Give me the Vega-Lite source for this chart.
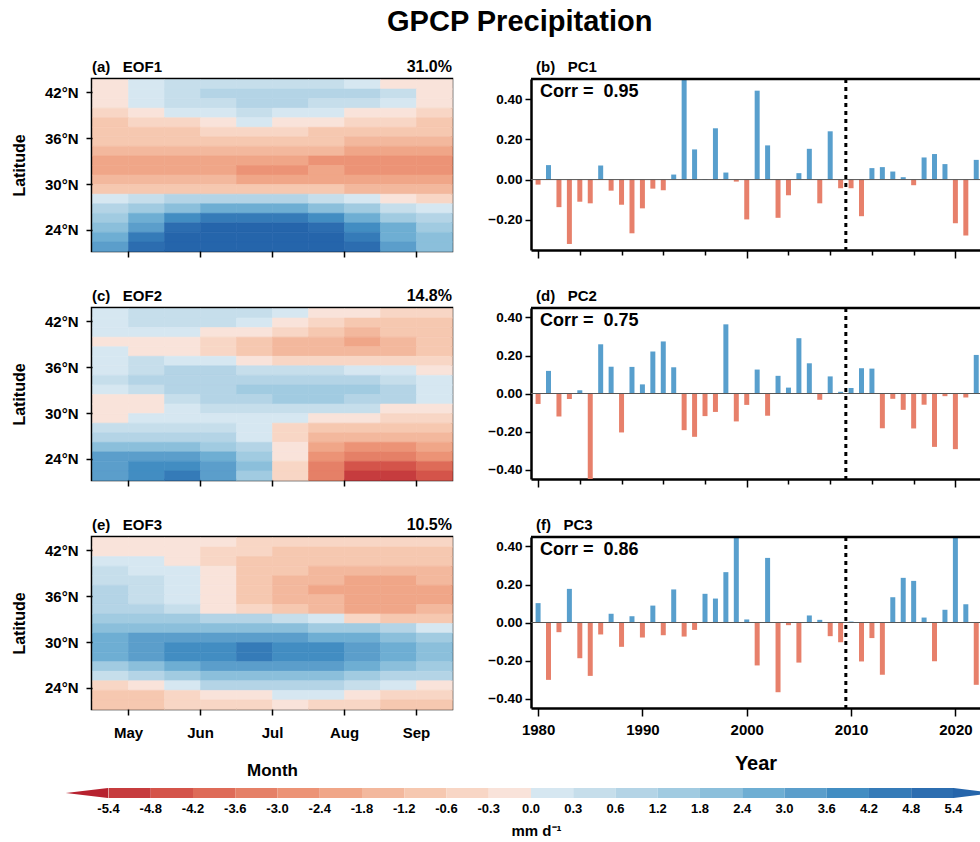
{
"$schema": "https://vega.github.io/schema/vega-lite/v6.json",
"background": "white",
"padding": {"left": 10, "top": 7, "right": 0, "bottom": 0},
"title": {"text": "GPCP Precipitation", "fontSize": 29, "font": "Liberation Sans", "fontWeight": "bold", "anchor": "middle", "offset": 21, "dx": 24, "color": "black"},
"spacing": 7,
"config": {
  "font": "Liberation Sans",
  "axis": {"labelFont": "Liberation Sans", "titleFont": "Liberation Sans", "labelColor": "black", "titleColor": "black", "tickColor": "black", "domainColor": "black", "labelFontWeight": "bold", "titleFontWeight": "bold", "grid": false, "labelOverlap": false},
  "title": {"font": "Liberation Sans", "color": "black"},
  "text": {"font": "Liberation Sans", "color": "black", "fontWeight": "bold"}
},
"vconcat": [
 {"columns": 2, "bounds": "flush", "spacing": {"row": 57, "column": 79}, "concat": [
   {"width": 360, "height": 172,
    "view": {"stroke": "black", "strokeWidth": 2.5},
    "layer": [
     {"data": {"name": "eof1"}, "mark": {"type": "rect", "binSpacing": 0, "strokeWidth": 0.6},
      "encoding": {
       "x": {"field": "m", "type": "quantitative", "bin": {"binned": true, "step": 0.5}, "scale": {"domain": [4.5, 9.5], "nice": false, "zero": false}, "axis": {"values": [5,6,7,8,9], "labels": false, "tickSize": 6, "tickWidth": 1.5, "domain": false, "title": null}},
       "y": {"field": "lat", "type": "quantitative", "bin": {"binned": true, "step": 1.25}, "scale": {"domain": [21.25, 43.75], "nice": false, "zero": false}, "axis": {"values": [24,30,36,42], "labelExpr": "datum.value + '°N'", "labelOverlap": false, "tickSize": 6, "tickWidth": 1.5, "domain": false, "labelFontSize": 15, "labelPadding": 8, "title": "Latitude", "titleFontSize": 16, "titlePadding": 17}},
       "color": {"field": "v", "type": "quantitative", "scale": {"type": "threshold", "domain": [-5.4,-4.8,-4.2,-3.6,-3.0,-2.4,-1.8,-1.2,-0.6,-0.3,0,0.3,0.6,1.2,1.8,2.4,3.0,3.6,4.2,4.8,5.4], "range": ["#b7222f","#c63c3e","#d4544a","#de6b58","#e58067","#ec9376","#f0a688","#f3b89d","#f6c8b0","#f8d6c5","#f9e3da","#d6e7f1","#c6deeb","#b4d4e6","#a1cbe1","#8bbfdb","#6eaed3","#5b9ecb","#428dc2","#357bb8","#2c6db0","#2565ab"]}, "legend": null},
       "stroke": {"field": "v", "type": "quantitative", "scale": {"type": "threshold", "domain": [-5.4,-4.8,-4.2,-3.6,-3.0,-2.4,-1.8,-1.2,-0.6,-0.3,0,0.3,0.6,1.2,1.8,2.4,3.0,3.6,4.2,4.8,5.4], "range": ["#b7222f","#c63c3e","#d4544a","#de6b58","#e58067","#ec9376","#f0a688","#f3b89d","#f6c8b0","#f8d6c5","#f9e3da","#d6e7f1","#c6deeb","#b4d4e6","#a1cbe1","#8bbfdb","#6eaed3","#5b9ecb","#428dc2","#357bb8","#2c6db0","#2565ab"]}, "legend": null}
      }},
     {"data": {"values": [{}]}, "mark": {"type": "text", "align": "right", "baseline": "alphabetic", "dy": -7, "fontSize": 16},
      "encoding": {"x": {"datum": 9.5}, "y": {"datum": 43.75}, "text": {"value": "31.0%"}}},
     {"data": {"values": [{}]}, "mark": {"type": "text", "align": "left", "baseline": "alphabetic", "dy": -7, "fontSize": 15},
      "encoding": {"x": {"datum": 4.5}, "y": {"datum": 43.75}, "text": {"value": "(a)\u00a0\u00a0\u00a0EOF1"}}}
    ]},
   {"width": 449, "height": 171,
    "view": {"stroke": null},
    "layer": [
     {"data": {"name": "pc1"}, "mark": {"type": "bar", "clip": true, "size": 5},
      "encoding": {
       "x": {"field": "year", "type": "quantitative", "scale": {"domain": [1979.8, 2021.88], "nice": false, "zero": false}, "axis": {"values": [1980,1982,1984,1986,1988,1990,1992,1994,1996,1998,2000,2002,2004,2006,2008,2010,2012,2014,2016,2018,2020], "labels": false, "tickSize": {"condition": {"test": "datum.value % 10 === 0", "value": 8}, "value": 5}, "tickWidth": 1.5, "domain": true, "domainWidth": 2.5, "title": null}},
       "y": {"field": "v", "type": "quantitative", "scale": {"domain": [-0.35, 0.5], "nice": false, "zero": false}, "axis": {"values": [-0.2,0,0.2,0.4], "format": ".2f", "labelOverlap": false, "tickSize": 6, "tickWidth": 1.5, "domain": true, "domainWidth": 2.5, "labelFontSize": 13.5, "labelPadding": 3, "title": null}},
       "color": {"condition": {"test": "datum.v >= 0", "value": "#589fcd"}, "value": "#e7806b"}
      }},
     {"data": {"values": [{}]}, "mark": {"type": "rule", "color": "#555555", "strokeWidth": 1}, "encoding": {"y": {"datum": 0}}},
     {"data": {"values": [{}]}, "mark": {"type": "rule", "color": "black", "strokeWidth": 3, "strokeDash": [4, 4]}, "encoding": {"x": {"datum": 2009.5}}},
     {"data": {"values": [{}]}, "mark": {"type": "rule", "color": "black", "strokeWidth": 2.5}, "encoding": {"y": {"datum": 0.5}}},
     {"data": {"values": [{}]}, "mark": {"type": "text", "align": "left", "baseline": "top", "dx": 4, "dy": 4, "fontSize": 18}, "encoding": {"x": {"datum": 1979.8}, "y": {"datum": 0.5}, "text": {"value": "Corr =\u00a0\u00a00.95"}}},
     {"data": {"values": [{}]}, "mark": {"type": "text", "align": "left", "baseline": "alphabetic", "dy": -7, "fontSize": 15}, "encoding": {"x": {"datum": 1979.8}, "y": {"datum": 0.5}, "text": {"value": "(b)\u00a0\u00a0\u00a0PC1"}}}
    ]},
   {"width": 360, "height": 172,
    "view": {"stroke": "black", "strokeWidth": 2.5},
    "layer": [
     {"data": {"name": "eof2"}, "mark": {"type": "rect", "binSpacing": 0, "strokeWidth": 0.6},
      "encoding": {
       "x": {"field": "m", "type": "quantitative", "bin": {"binned": true, "step": 0.5}, "scale": {"domain": [4.5, 9.5], "nice": false, "zero": false}, "axis": {"values": [5,6,7,8,9], "labels": false, "tickSize": 6, "tickWidth": 1.5, "domain": false, "title": null}},
       "y": {"field": "lat", "type": "quantitative", "bin": {"binned": true, "step": 1.25}, "scale": {"domain": [21.25, 43.75], "nice": false, "zero": false}, "axis": {"values": [24,30,36,42], "labelExpr": "datum.value + '°N'", "labelOverlap": false, "tickSize": 6, "tickWidth": 1.5, "domain": false, "labelFontSize": 15, "labelPadding": 8, "title": "Latitude", "titleFontSize": 16, "titlePadding": 17}},
       "color": {"field": "v", "type": "quantitative", "scale": {"type": "threshold", "domain": [-5.4,-4.8,-4.2,-3.6,-3.0,-2.4,-1.8,-1.2,-0.6,-0.3,0,0.3,0.6,1.2,1.8,2.4,3.0,3.6,4.2,4.8,5.4], "range": ["#b7222f","#c63c3e","#d4544a","#de6b58","#e58067","#ec9376","#f0a688","#f3b89d","#f6c8b0","#f8d6c5","#f9e3da","#d6e7f1","#c6deeb","#b4d4e6","#a1cbe1","#8bbfdb","#6eaed3","#5b9ecb","#428dc2","#357bb8","#2c6db0","#2565ab"]}, "legend": null},
       "stroke": {"field": "v", "type": "quantitative", "scale": {"type": "threshold", "domain": [-5.4,-4.8,-4.2,-3.6,-3.0,-2.4,-1.8,-1.2,-0.6,-0.3,0,0.3,0.6,1.2,1.8,2.4,3.0,3.6,4.2,4.8,5.4], "range": ["#b7222f","#c63c3e","#d4544a","#de6b58","#e58067","#ec9376","#f0a688","#f3b89d","#f6c8b0","#f8d6c5","#f9e3da","#d6e7f1","#c6deeb","#b4d4e6","#a1cbe1","#8bbfdb","#6eaed3","#5b9ecb","#428dc2","#357bb8","#2c6db0","#2565ab"]}, "legend": null}
      }},
     {"data": {"values": [{}]}, "mark": {"type": "text", "align": "right", "baseline": "alphabetic", "dy": -7, "fontSize": 16},
      "encoding": {"x": {"datum": 9.5}, "y": {"datum": 43.75}, "text": {"value": "14.8%"}}},
     {"data": {"values": [{}]}, "mark": {"type": "text", "align": "left", "baseline": "alphabetic", "dy": -7, "fontSize": 15},
      "encoding": {"x": {"datum": 4.5}, "y": {"datum": 43.75}, "text": {"value": "(c)\u00a0\u00a0\u00a0EOF2"}}}
    ]},
   {"width": 449, "height": 171,
    "view": {"stroke": null},
    "layer": [
     {"data": {"name": "pc2"}, "mark": {"type": "bar", "clip": true, "size": 5},
      "encoding": {
       "x": {"field": "year", "type": "quantitative", "scale": {"domain": [1979.8, 2021.88], "nice": false, "zero": false}, "axis": {"values": [1980,1982,1984,1986,1988,1990,1992,1994,1996,1998,2000,2002,2004,2006,2008,2010,2012,2014,2016,2018,2020], "labels": false, "tickSize": {"condition": {"test": "datum.value % 10 === 0", "value": 8}, "value": 5}, "tickWidth": 1.5, "domain": true, "domainWidth": 2.5, "title": null}},
       "y": {"field": "v", "type": "quantitative", "scale": {"domain": [-0.45, 0.45], "nice": false, "zero": false}, "axis": {"values": [-0.4,-0.2,0,0.2,0.4], "format": ".2f", "labelOverlap": false, "tickSize": 6, "tickWidth": 1.5, "domain": true, "domainWidth": 2.5, "labelFontSize": 13.5, "labelPadding": 3, "title": null}},
       "color": {"condition": {"test": "datum.v >= 0", "value": "#589fcd"}, "value": "#e7806b"}
      }},
     {"data": {"values": [{}]}, "mark": {"type": "rule", "color": "#555555", "strokeWidth": 1}, "encoding": {"y": {"datum": 0}}},
     {"data": {"values": [{}]}, "mark": {"type": "rule", "color": "black", "strokeWidth": 3, "strokeDash": [4, 4]}, "encoding": {"x": {"datum": 2009.5}}},
     {"data": {"values": [{}]}, "mark": {"type": "rule", "color": "black", "strokeWidth": 2.5}, "encoding": {"y": {"datum": 0.45}}},
     {"data": {"values": [{}]}, "mark": {"type": "text", "align": "left", "baseline": "top", "dx": 4, "dy": 4, "fontSize": 18}, "encoding": {"x": {"datum": 1979.8}, "y": {"datum": 0.45}, "text": {"value": "Corr =\u00a0\u00a00.75"}}},
     {"data": {"values": [{}]}, "mark": {"type": "text", "align": "left", "baseline": "alphabetic", "dy": -7, "fontSize": 15}, "encoding": {"x": {"datum": 1979.8}, "y": {"datum": 0.45}, "text": {"value": "(d)\u00a0\u00a0\u00a0PC2"}}}
    ]},
   {"width": 360, "height": 172,
    "view": {"stroke": "black", "strokeWidth": 2.5},
    "layer": [
     {"data": {"name": "eof3"}, "mark": {"type": "rect", "binSpacing": 0, "strokeWidth": 0.6},
      "encoding": {
       "x": {"field": "m", "type": "quantitative", "bin": {"binned": true, "step": 0.5}, "scale": {"domain": [4.5, 9.5], "nice": false, "zero": false}, "axis": {"values": [5,6,7,8,9], "labelExpr": "['','','','','','May','Jun','Jul','Aug','Sep'][datum.value]", "labelOverlap": false, "labelFontSize": 15, "labelPadding": 10, "tickSize": 6, "tickWidth": 1.5, "domain": false, "title": "Month", "titleFontSize": 17, "titlePadding": 22}},
       "y": {"field": "lat", "type": "quantitative", "bin": {"binned": true, "step": 1.25}, "scale": {"domain": [21.25, 43.75], "nice": false, "zero": false}, "axis": {"values": [24,30,36,42], "labelExpr": "datum.value + '°N'", "labelOverlap": false, "tickSize": 6, "tickWidth": 1.5, "domain": false, "labelFontSize": 15, "labelPadding": 8, "title": "Latitude", "titleFontSize": 16, "titlePadding": 17}},
       "color": {"field": "v", "type": "quantitative", "scale": {"type": "threshold", "domain": [-5.4,-4.8,-4.2,-3.6,-3.0,-2.4,-1.8,-1.2,-0.6,-0.3,0,0.3,0.6,1.2,1.8,2.4,3.0,3.6,4.2,4.8,5.4], "range": ["#b7222f","#c63c3e","#d4544a","#de6b58","#e58067","#ec9376","#f0a688","#f3b89d","#f6c8b0","#f8d6c5","#f9e3da","#d6e7f1","#c6deeb","#b4d4e6","#a1cbe1","#8bbfdb","#6eaed3","#5b9ecb","#428dc2","#357bb8","#2c6db0","#2565ab"]}, "legend": null},
       "stroke": {"field": "v", "type": "quantitative", "scale": {"type": "threshold", "domain": [-5.4,-4.8,-4.2,-3.6,-3.0,-2.4,-1.8,-1.2,-0.6,-0.3,0,0.3,0.6,1.2,1.8,2.4,3.0,3.6,4.2,4.8,5.4], "range": ["#b7222f","#c63c3e","#d4544a","#de6b58","#e58067","#ec9376","#f0a688","#f3b89d","#f6c8b0","#f8d6c5","#f9e3da","#d6e7f1","#c6deeb","#b4d4e6","#a1cbe1","#8bbfdb","#6eaed3","#5b9ecb","#428dc2","#357bb8","#2c6db0","#2565ab"]}, "legend": null}
      }},
     {"data": {"values": [{}]}, "mark": {"type": "text", "align": "right", "baseline": "alphabetic", "dy": -7, "fontSize": 16},
      "encoding": {"x": {"datum": 9.5}, "y": {"datum": 43.75}, "text": {"value": "10.5%"}}},
     {"data": {"values": [{}]}, "mark": {"type": "text", "align": "left", "baseline": "alphabetic", "dy": -7, "fontSize": 15},
      "encoding": {"x": {"datum": 4.5}, "y": {"datum": 43.75}, "text": {"value": "(e)\u00a0\u00a0\u00a0EOF3"}}}
    ]},
   {"width": 449, "height": 171,
    "view": {"stroke": null},
    "layer": [
     {"data": {"name": "pc3"}, "mark": {"type": "bar", "clip": true, "size": 5},
      "encoding": {
       "x": {"field": "year", "type": "quantitative", "scale": {"domain": [1979.8, 2021.88], "nice": false, "zero": false}, "axis": {"values": [1980,1990,2000,2010,2020], "format": "d", "labelOverlap": false, "labelFontSize": 15, "labelPadding": 6, "tickSize": 8, "tickWidth": 1.5, "domain": true, "domainWidth": 2.5, "title": "Year", "titleFontSize": 20, "titlePadding": 16}},
       "y": {"field": "v", "type": "quantitative", "scale": {"domain": [-0.45, 0.45], "nice": false, "zero": false}, "axis": {"values": [-0.4,-0.2,0,0.2,0.4], "format": ".2f", "labelOverlap": false, "tickSize": 6, "tickWidth": 1.5, "domain": true, "domainWidth": 2.5, "labelFontSize": 13.5, "labelPadding": 3, "title": null}},
       "color": {"condition": {"test": "datum.v >= 0", "value": "#589fcd"}, "value": "#e7806b"}
      }},
     {"data": {"values": [{}]}, "mark": {"type": "rule", "color": "#555555", "strokeWidth": 1}, "encoding": {"y": {"datum": 0}}},
     {"data": {"values": [{}]}, "mark": {"type": "rule", "color": "black", "strokeWidth": 3, "strokeDash": [4, 4]}, "encoding": {"x": {"datum": 2009.5}}},
     {"data": {"values": [{}]}, "mark": {"type": "rule", "color": "black", "strokeWidth": 2.5}, "encoding": {"y": {"datum": 0.45}}},
     {"data": {"values": [{}]}, "mark": {"type": "text", "align": "left", "baseline": "top", "dx": 4, "dy": 4, "fontSize": 18}, "encoding": {"x": {"datum": 1979.8}, "y": {"datum": 0.45}, "text": {"value": "Corr =\u00a0\u00a00.86"}}},
     {"data": {"values": [{}]}, "mark": {"type": "text", "align": "left", "baseline": "alphabetic", "dy": -7, "fontSize": 15}, "encoding": {"x": {"datum": 1979.8}, "y": {"datum": 0.45}, "text": {"value": "(f)\u00a0\u00a0\u00a0PC3"}}}
    ]}
 ]},
 {"width": 888, "height": 10,
  "view": {"stroke": null},
  "layer": [
   {"data": {"name": "cbar"}, "mark": {"type": "rect", "binSpacing": 0},
    "encoding": {
     "x": {"field": "i", "type": "quantitative", "bin": {"binned": true, "step": 1}, "scale": {"domain": [-0.379, 20.64], "nice": false, "zero": false}, "axis": {"values": [0,1,2,3,4,5,6,7,8,9,10,11,12,13,14,15,16,17,18,19,20], "labelExpr": "['-5.4','-4.8','-4.2','-3.6','-3.0','-2.4','-1.8','-1.2','-0.6','-0.3','0.0','0.3','0.6','1.2','1.8','2.4','3.0','3.6','4.2','4.8','5.4'][datum.value]", "labelOverlap": false, "ticks": false, "domain": false, "labelFontSize": 13, "labelPadding": 4, "title": "mm d⁻¹", "titleFontSize": 15, "titlePadding": 8}},
     "y": {"datum": 0, "type": "quantitative", "scale": {"domain": [0, 1]}, "axis": null},
     "y2": {"datum": 1},
     "color": {"field": "v", "type": "quantitative", "scale": {"type": "threshold", "domain": [-5.4,-4.8,-4.2,-3.6,-3.0,-2.4,-1.8,-1.2,-0.6,-0.3,0,0.3,0.6,1.2,1.8,2.4,3.0,3.6,4.2,4.8,5.4], "range": ["#b7222f","#c63c3e","#d4544a","#de6b58","#e58067","#ec9376","#f0a688","#f3b89d","#f6c8b0","#f8d6c5","#f9e3da","#d6e7f1","#c6deeb","#b4d4e6","#a1cbe1","#8bbfdb","#6eaed3","#5b9ecb","#428dc2","#357bb8","#2c6db0","#2565ab"]}, "legend": null}
    }},
   {"data": {"name": "triL"}, "mark": {"type": "point", "filled": true, "opacity": 1, "shape": "M -1 0 L 1 -0.24 L 1 0.24 Z", "size": 1785},
    "encoding": {"x": {"field": "i", "type": "quantitative"}, "y": {"datum": 0.5, "type": "quantitative"}, "color": {"field": "v", "type": "quantitative", "scale": {"type": "threshold", "domain": [-5.4,-4.8,-4.2,-3.6,-3.0,-2.4,-1.8,-1.2,-0.6,-0.3,0,0.3,0.6,1.2,1.8,2.4,3.0,3.6,4.2,4.8,5.4], "range": ["#b7222f","#c63c3e","#d4544a","#de6b58","#e58067","#ec9376","#f0a688","#f3b89d","#f6c8b0","#f8d6c5","#f9e3da","#d6e7f1","#c6deeb","#b4d4e6","#a1cbe1","#8bbfdb","#6eaed3","#5b9ecb","#428dc2","#357bb8","#2c6db0","#2565ab"]}, "legend": null}}},
   {"data": {"name": "triR"}, "mark": {"type": "point", "filled": true, "opacity": 1, "clip": true, "shape": "M 1 0 L -1 -0.24 L -1 0.24 Z", "size": 1785},
    "encoding": {"x": {"field": "i", "type": "quantitative"}, "y": {"datum": 0.5, "type": "quantitative"}, "color": {"field": "v", "type": "quantitative", "scale": {"type": "threshold", "domain": [-5.4,-4.8,-4.2,-3.6,-3.0,-2.4,-1.8,-1.2,-0.6,-0.3,0,0.3,0.6,1.2,1.8,2.4,3.0,3.6,4.2,4.8,5.4], "range": ["#b7222f","#c63c3e","#d4544a","#de6b58","#e58067","#ec9376","#f0a688","#f3b89d","#f6c8b0","#f8d6c5","#f9e3da","#d6e7f1","#c6deeb","#b4d4e6","#a1cbe1","#8bbfdb","#6eaed3","#5b9ecb","#428dc2","#357bb8","#2c6db0","#2565ab"]}, "legend": null}}}
  ]}
],
"datasets": {
 "cbar": [{"i":0,"v":-5.1},{"i":1,"v":-4.5},{"i":2,"v":-3.9},{"i":3,"v":-3.3},{"i":4,"v":-2.7},{"i":5,"v":-2.1},{"i":6,"v":-1.5},{"i":7,"v":-0.9},{"i":8,"v":-0.45},{"i":9,"v":-0.15},{"i":10,"v":0.15},{"i":11,"v":0.45},{"i":12,"v":0.9},{"i":13,"v":1.5},{"i":14,"v":2.1},{"i":15,"v":2.7},{"i":16,"v":3.3},{"i":17,"v":3.9},{"i":18,"v":4.5},{"i":19,"v":5.1}],
 "triL": [{"i":-0.5,"v":-6}],
 "triR": [{"i":20.5,"v":6}],
 "pc1": [{"year":1980,"v":-0.025},{"year":1981,"v":0.072},{"year":1982,"v":-0.137},{"year":1983,"v":-0.32},{"year":1984,"v":-0.11},{"year":1985,"v":-0.118},{"year":1986,"v":0.07},{"year":1987,"v":-0.055},{"year":1988,"v":-0.125},{"year":1989,"v":-0.267},{"year":1990,"v":-0.143},{"year":1991,"v":-0.045},{"year":1992,"v":-0.053},{"year":1993,"v":0.025},{"year":1994,"v":0.55},{"year":1995,"v":0.15},{"year":1996,"v":0.003},{"year":1997,"v":0.255},{"year":1998,"v":0.035},{"year":1999,"v":-0.01},{"year":2000,"v":-0.198},{"year":2001,"v":0.442},{"year":2002,"v":0.17},{"year":2003,"v":-0.19},{"year":2004,"v":-0.078},{"year":2005,"v":0.032},{"year":2006,"v":0.153},{"year":2007,"v":-0.118},{"year":2008,"v":0.24},{"year":2009,"v":-0.043},{"year":2010,"v":-0.043},{"year":2011,"v":-0.182},{"year":2012,"v":0.057},{"year":2013,"v":0.062},{"year":2014,"v":0.04},{"year":2015,"v":0.012},{"year":2016,"v":-0.028},{"year":2017,"v":0.11},{"year":2018,"v":0.127},{"year":2019,"v":0.077},{"year":2020,"v":-0.217},{"year":2021,"v":-0.278},{"year":2022,"v":0.098}],
 "pc2": [{"year":1980,"v":-0.055},{"year":1981,"v":0.119},{"year":1982,"v":-0.121},{"year":1983,"v":-0.029},{"year":1984,"v":0.017},{"year":1985,"v":-0.47},{"year":1986,"v":0.259},{"year":1987,"v":0.141},{"year":1988,"v":-0.205},{"year":1989,"v":0.14},{"year":1990,"v":0.048},{"year":1991,"v":0.221},{"year":1992,"v":0.274},{"year":1993,"v":0.138},{"year":1994,"v":-0.193},{"year":1995,"v":-0.228},{"year":1996,"v":-0.119},{"year":1997,"v":-0.097},{"year":1998,"v":0.364},{"year":1999,"v":-0.147},{"year":2000,"v":-0.06},{"year":2001,"v":0.126},{"year":2002,"v":-0.117},{"year":2003,"v":0.093},{"year":2004,"v":0.031},{"year":2005,"v":0.291},{"year":2006,"v":0.159},{"year":2007,"v":-0.033},{"year":2008,"v":0.09},{"year":2009,"v":0.009},{"year":2010,"v":0.029},{"year":2011,"v":0.133},{"year":2012,"v":0.131},{"year":2013,"v":-0.183},{"year":2014,"v":-0.028},{"year":2015,"v":-0.086},{"year":2016,"v":-0.184},{"year":2017,"v":-0.059},{"year":2018,"v":-0.281},{"year":2019,"v":-0.014},{"year":2020,"v":-0.293},{"year":2021,"v":-0.021},{"year":2022,"v":0.203}],
 "pc3": [{"year":1980,"v":0.102},{"year":1981,"v":-0.302},{"year":1982,"v":-0.051},{"year":1983,"v":0.177},{"year":1984,"v":-0.188},{"year":1985,"v":-0.281},{"year":1986,"v":-0.063},{"year":1987,"v":0.046},{"year":1988,"v":-0.128},{"year":1989,"v":0.033},{"year":1990,"v":-0.079},{"year":1991,"v":0.089},{"year":1992,"v":-0.067},{"year":1993,"v":0.174},{"year":1994,"v":-0.074},{"year":1995,"v":-0.039},{"year":1996,"v":0.151},{"year":1997,"v":0.126},{"year":1998,"v":0.265},{"year":1999,"v":0.47},{"year":2000,"v":0.016},{"year":2001,"v":-0.226},{"year":2002,"v":0.34},{"year":2003,"v":-0.367},{"year":2004,"v":-0.014},{"year":2005,"v":-0.211},{"year":2006,"v":0.037},{"year":2007,"v":0.014},{"year":2008,"v":-0.072},{"year":2009,"v":-0.104},{"year":2010,"v":0.005},{"year":2011,"v":-0.205},{"year":2012,"v":-0.082},{"year":2013,"v":-0.275},{"year":2014,"v":0.133},{"year":2015,"v":0.235},{"year":2016,"v":0.219},{"year":2017,"v":0.026},{"year":2018,"v":-0.204},{"year":2019,"v":0.067},{"year":2020,"v":0.47},{"year":2021,"v":0.096},{"year":2022,"v":-0.328}],
 "eof1": [
{"m":4.5,"lat":42.5,"v":-0.15},{"m":5,"lat":42.5,"v":0.15},{"m":5.5,"lat":42.5,"v":0.35},{"m":6,"lat":42.5,"v":0.5},{"m":6.5,"lat":42.5,"v":0.55},{"m":7,"lat":42.5,"v":0.5},{"m":7.5,"lat":42.5,"v":0.4},{"m":8,"lat":42.5,"v":0.2},{"m":8.5,"lat":42.5,"v":-0.1},{"m":9,"lat":42.5,"v":-0.2},
{"m":4.5,"lat":41.25,"v":-0.2},{"m":5,"lat":41.25,"v":0.2},{"m":5.5,"lat":41.25,"v":0.5},{"m":6,"lat":41.25,"v":0.8},{"m":6.5,"lat":41.25,"v":0.9},{"m":7,"lat":41.25,"v":0.85},{"m":7.5,"lat":41.25,"v":0.8},{"m":8,"lat":41.25,"v":0.6},{"m":8.5,"lat":41.25,"v":0.3},{"m":9,"lat":41.25,"v":-0.1},
{"m":4.5,"lat":40,"v":-0.3},{"m":5,"lat":40,"v":0.1},{"m":5.5,"lat":40,"v":0.35},{"m":6,"lat":40,"v":0.5},{"m":6.5,"lat":40,"v":0.65},{"m":7,"lat":40,"v":0.6},{"m":7.5,"lat":40,"v":0.45},{"m":8,"lat":40,"v":0.3},{"m":8.5,"lat":40,"v":0.1},{"m":9,"lat":40,"v":-0.2},
{"m":4.5,"lat":38.75,"v":-0.5},{"m":5,"lat":38.75,"v":-0.3},{"m":5.5,"lat":38.75,"v":0.05},{"m":6,"lat":38.75,"v":0.2},{"m":6.5,"lat":38.75,"v":0.3},{"m":7,"lat":38.75,"v":0.25},{"m":7.5,"lat":38.75,"v":0.1},{"m":8,"lat":38.75,"v":-0.1},{"m":8.5,"lat":38.75,"v":-0.3},{"m":9,"lat":38.75,"v":-0.5},
{"m":4.5,"lat":37.5,"v":-0.8},{"m":5,"lat":37.5,"v":-0.6},{"m":5.5,"lat":37.5,"v":-0.35},{"m":6,"lat":37.5,"v":-0.15},{"m":6.5,"lat":37.5,"v":0.02},{"m":7,"lat":37.5,"v":-0.1},{"m":7.5,"lat":37.5,"v":-0.25},{"m":8,"lat":37.5,"v":-0.4},{"m":8.5,"lat":37.5,"v":-0.6},{"m":9,"lat":37.5,"v":-0.7},
{"m":4.5,"lat":36.25,"v":-1.0},{"m":5,"lat":36.25,"v":-0.9},{"m":5.5,"lat":36.25,"v":-0.8},{"m":6,"lat":36.25,"v":-0.6},{"m":6.5,"lat":36.25,"v":-0.5},{"m":7,"lat":36.25,"v":-0.6},{"m":7.5,"lat":36.25,"v":-0.7},{"m":8,"lat":36.25,"v":-0.8},{"m":8.5,"lat":36.25,"v":-0.9},{"m":9,"lat":36.25,"v":-1.0},
{"m":4.5,"lat":35,"v":-1.1},{"m":5,"lat":35,"v":-1.1},{"m":5.5,"lat":35,"v":-1.0},{"m":6,"lat":35,"v":-1.0},{"m":6.5,"lat":35,"v":-0.9},{"m":7,"lat":35,"v":-1.0},{"m":7.5,"lat":35,"v":-1.1},{"m":8,"lat":35,"v":-1.3},{"m":8.5,"lat":35,"v":-1.3},{"m":9,"lat":35,"v":-1.4},
{"m":4.5,"lat":33.75,"v":-1.4},{"m":5,"lat":33.75,"v":-1.4},{"m":5.5,"lat":33.75,"v":-1.4},{"m":6,"lat":33.75,"v":-1.5},{"m":6.5,"lat":33.75,"v":-1.5},{"m":7,"lat":33.75,"v":-1.6},{"m":7.5,"lat":33.75,"v":-1.7},{"m":8,"lat":33.75,"v":-1.9},{"m":8.5,"lat":33.75,"v":-2.0},{"m":9,"lat":33.75,"v":-2.0},
{"m":4.5,"lat":32.5,"v":-2.0},{"m":5,"lat":32.5,"v":-2.0},{"m":5.5,"lat":32.5,"v":-2.0},{"m":6,"lat":32.5,"v":-2.1},{"m":6.5,"lat":32.5,"v":-2.2},{"m":7,"lat":32.5,"v":-2.3},{"m":7.5,"lat":32.5,"v":-2.5},{"m":8,"lat":32.5,"v":-2.6},{"m":8.5,"lat":32.5,"v":-2.6},{"m":9,"lat":32.5,"v":-2.6},
{"m":4.5,"lat":31.25,"v":-2.0},{"m":5,"lat":31.25,"v":-2.1},{"m":5.5,"lat":31.25,"v":-2.2},{"m":6,"lat":31.25,"v":-2.3},{"m":6.5,"lat":31.25,"v":-2.6},{"m":7,"lat":31.25,"v":-2.5},{"m":7.5,"lat":31.25,"v":-2.4},{"m":8,"lat":31.25,"v":-2.6},{"m":8.5,"lat":31.25,"v":-2.6},{"m":9,"lat":31.25,"v":-2.6},
{"m":4.5,"lat":30,"v":-1.5},{"m":5,"lat":30,"v":-1.6},{"m":5.5,"lat":30,"v":-1.7},{"m":6,"lat":30,"v":-1.8},{"m":6.5,"lat":30,"v":-1.9},{"m":7,"lat":30,"v":-1.9},{"m":7.5,"lat":30,"v":-1.9},{"m":8,"lat":30,"v":-2.0},{"m":8.5,"lat":30,"v":-2.0},{"m":9,"lat":30,"v":-2.0},
{"m":4.5,"lat":28.75,"v":-0.7},{"m":5,"lat":28.75,"v":-0.8},{"m":5.5,"lat":28.75,"v":-1.0},{"m":6,"lat":28.75,"v":-1.0},{"m":6.5,"lat":28.75,"v":-1.1},{"m":7,"lat":28.75,"v":-1.1},{"m":7.5,"lat":28.75,"v":-1.2},{"m":8,"lat":28.75,"v":-1.3},{"m":8.5,"lat":28.75,"v":-1.4},{"m":9,"lat":28.75,"v":-1.4},
{"m":4.5,"lat":27.5,"v":0.1},{"m":5,"lat":27.5,"v":0.3},{"m":5.5,"lat":27.5,"v":0.6},{"m":6,"lat":27.5,"v":0.8},{"m":6.5,"lat":27.5,"v":0.9},{"m":7,"lat":27.5,"v":0.8},{"m":7.5,"lat":27.5,"v":0.5},{"m":8,"lat":27.5,"v":0.1},{"m":8.5,"lat":27.5,"v":-0.3},{"m":9,"lat":27.5,"v":-0.5},
{"m":4.5,"lat":26.25,"v":0.8},{"m":5,"lat":26.25,"v":1.2},{"m":5.5,"lat":26.25,"v":2.0},{"m":6,"lat":26.25,"v":2.6},{"m":6.5,"lat":26.25,"v":2.8},{"m":7,"lat":26.25,"v":2.6},{"m":7.5,"lat":26.25,"v":2.0},{"m":8,"lat":26.25,"v":1.2},{"m":8.5,"lat":26.25,"v":0.5},{"m":9,"lat":26.25,"v":0.2},
{"m":4.5,"lat":25,"v":1.5},{"m":5,"lat":25,"v":2.4},{"m":5.5,"lat":25,"v":3.6},{"m":6,"lat":25,"v":4.3},{"m":6.5,"lat":25,"v":4.6},{"m":7,"lat":25,"v":4.4},{"m":7.5,"lat":25,"v":3.7},{"m":8,"lat":25,"v":2.6},{"m":8.5,"lat":25,"v":1.6},{"m":9,"lat":25,"v":0.9},
{"m":4.5,"lat":23.75,"v":2.3},{"m":5,"lat":23.75,"v":3.4},{"m":5.5,"lat":23.75,"v":4.8},{"m":6,"lat":23.75,"v":5.4},{"m":6.5,"lat":23.75,"v":5.6},{"m":7,"lat":23.75,"v":5.5},{"m":7.5,"lat":23.75,"v":5.0},{"m":8,"lat":23.75,"v":3.8},{"m":8.5,"lat":23.75,"v":2.4},{"m":9,"lat":23.75,"v":1.5},
{"m":4.5,"lat":22.5,"v":2.8},{"m":5,"lat":22.5,"v":4.2},{"m":5.5,"lat":22.5,"v":5.5},{"m":6,"lat":22.5,"v":5.7},{"m":6.5,"lat":22.5,"v":5.8},{"m":7,"lat":22.5,"v":5.7},{"m":7.5,"lat":22.5,"v":5.6},{"m":8,"lat":22.5,"v":4.6},{"m":8.5,"lat":22.5,"v":2.9},{"m":9,"lat":22.5,"v":1.8},
{"m":4.5,"lat":21.25,"v":3.0},{"m":5,"lat":21.25,"v":4.8},{"m":5.5,"lat":21.25,"v":5.6},{"m":6,"lat":21.25,"v":5.8},{"m":6.5,"lat":21.25,"v":5.8},{"m":7,"lat":21.25,"v":5.8},{"m":7.5,"lat":21.25,"v":5.7},{"m":8,"lat":21.25,"v":5.0},{"m":8.5,"lat":21.25,"v":3.2},{"m":9,"lat":21.25,"v":2.0}
 ],
 "eof2": [
{"m":4.5,"lat":42.5,"v":0.2},{"m":5,"lat":42.5,"v":0.4},{"m":5.5,"lat":42.5,"v":0.45},{"m":6,"lat":42.5,"v":0.4},{"m":6.5,"lat":42.5,"v":0.3},{"m":7,"lat":42.5,"v":0.1},{"m":7.5,"lat":42.5,"v":-0.1},{"m":8,"lat":42.5,"v":-0.2},{"m":8.5,"lat":42.5,"v":-0.4},{"m":9,"lat":42.5,"v":-0.5},
{"m":4.5,"lat":41.25,"v":0.15},{"m":5,"lat":41.25,"v":0.45},{"m":5.5,"lat":41.25,"v":0.4},{"m":6,"lat":41.25,"v":0.3},{"m":6.5,"lat":41.25,"v":0.15},{"m":7,"lat":41.25,"v":-0.1},{"m":7.5,"lat":41.25,"v":-0.4},{"m":8,"lat":41.25,"v":-0.7},{"m":8.5,"lat":41.25,"v":-0.8},{"m":9,"lat":41.25,"v":-0.9},
{"m":4.5,"lat":40,"v":0.05},{"m":5,"lat":40,"v":0.15},{"m":5.5,"lat":40,"v":0.1},{"m":6,"lat":40,"v":-0.1},{"m":6.5,"lat":40,"v":-0.3},{"m":7,"lat":40,"v":-0.6},{"m":7.5,"lat":40,"v":-0.9},{"m":8,"lat":40,"v":-1.3},{"m":8.5,"lat":40,"v":-1.2},{"m":9,"lat":40,"v":-1.0},
{"m":4.5,"lat":38.75,"v":-0.1},{"m":5,"lat":38.75,"v":-0.2},{"m":5.5,"lat":38.75,"v":-0.3},{"m":6,"lat":38.75,"v":-0.5},{"m":6.5,"lat":38.75,"v":-1.0},{"m":7,"lat":38.75,"v":-1.3},{"m":7.5,"lat":38.75,"v":-1.5},{"m":8,"lat":38.75,"v":-1.9},{"m":8.5,"lat":38.75,"v":-1.6},{"m":9,"lat":38.75,"v":-1.2},
{"m":4.5,"lat":37.5,"v":0.1},{"m":5,"lat":37.5,"v":-0.05},{"m":5.5,"lat":37.5,"v":-0.2},{"m":6,"lat":37.5,"v":-0.4},{"m":6.5,"lat":37.5,"v":-0.8},{"m":7,"lat":37.5,"v":-1.3},{"m":7.5,"lat":37.5,"v":-1.4},{"m":8,"lat":37.5,"v":-1.5},{"m":8.5,"lat":37.5,"v":-1.3},{"m":9,"lat":37.5,"v":-1.0},
{"m":4.5,"lat":36.25,"v":0.2},{"m":5,"lat":36.25,"v":0.3},{"m":5.5,"lat":36.25,"v":0.2},{"m":6,"lat":36.25,"v":0.1},{"m":6.5,"lat":36.25,"v":-0.1},{"m":7,"lat":36.25,"v":-0.4},{"m":7.5,"lat":36.25,"v":-0.5},{"m":8,"lat":36.25,"v":-0.6},{"m":8.5,"lat":36.25,"v":-0.6},{"m":9,"lat":36.25,"v":-0.5},
{"m":4.5,"lat":35,"v":0.2},{"m":5,"lat":35,"v":0.5},{"m":5.5,"lat":35,"v":0.7},{"m":6,"lat":35,"v":0.6},{"m":6.5,"lat":35,"v":0.5},{"m":7,"lat":35,"v":0.4},{"m":7.5,"lat":35,"v":0.3},{"m":8,"lat":35,"v":0.2},{"m":8.5,"lat":35,"v":0.1},{"m":9,"lat":35,"v":-0.1},
{"m":4.5,"lat":33.75,"v":0.3},{"m":5,"lat":33.75,"v":0.7},{"m":5.5,"lat":33.75,"v":0.9},{"m":6,"lat":33.75,"v":0.8},{"m":6.5,"lat":33.75,"v":0.8},{"m":7,"lat":33.75,"v":0.8},{"m":7.5,"lat":33.75,"v":0.7},{"m":8,"lat":33.75,"v":0.7},{"m":8.5,"lat":33.75,"v":0.4},{"m":9,"lat":33.75,"v":0.2},
{"m":4.5,"lat":32.5,"v":0.2},{"m":5,"lat":32.5,"v":0.5},{"m":5.5,"lat":32.5,"v":0.8},{"m":6,"lat":32.5,"v":0.8},{"m":6.5,"lat":32.5,"v":1.3},{"m":7,"lat":32.5,"v":1.4},{"m":7.5,"lat":32.5,"v":1.4},{"m":8,"lat":32.5,"v":1.3},{"m":8.5,"lat":32.5,"v":0.7},{"m":9,"lat":32.5,"v":0.1},
{"m":4.5,"lat":31.25,"v":-0.1},{"m":5,"lat":31.25,"v":-0.05},{"m":5.5,"lat":31.25,"v":0.5},{"m":6,"lat":31.25,"v":0.7},{"m":6.5,"lat":31.25,"v":1.0},{"m":7,"lat":31.25,"v":1.2},{"m":7.5,"lat":31.25,"v":1.2},{"m":8,"lat":31.25,"v":1.1},{"m":8.5,"lat":31.25,"v":0.6},{"m":9,"lat":31.25,"v":0.1},
{"m":4.5,"lat":30,"v":-0.1},{"m":5,"lat":30,"v":-0.05},{"m":5.5,"lat":30,"v":0.2},{"m":6,"lat":30,"v":0.3},{"m":6.5,"lat":30,"v":0.5},{"m":7,"lat":30,"v":0.5},{"m":7.5,"lat":30,"v":0.5},{"m":8,"lat":30,"v":0.3},{"m":8.5,"lat":30,"v":-0.1},{"m":9,"lat":30,"v":-0.3},
{"m":4.5,"lat":28.75,"v":-0.1},{"m":5,"lat":28.75,"v":0.05},{"m":5.5,"lat":28.75,"v":0.15},{"m":6,"lat":28.75,"v":0.2},{"m":6.5,"lat":28.75,"v":0.2},{"m":7,"lat":28.75,"v":0.1},{"m":7.5,"lat":28.75,"v":-0.1},{"m":8,"lat":28.75,"v":-0.3},{"m":8.5,"lat":28.75,"v":-0.5},{"m":9,"lat":28.75,"v":-0.6},
{"m":4.5,"lat":27.5,"v":0.4},{"m":5,"lat":27.5,"v":0.5},{"m":5.5,"lat":27.5,"v":0.4},{"m":6,"lat":27.5,"v":0.3},{"m":6.5,"lat":27.5,"v":0.1},{"m":7,"lat":27.5,"v":-0.5},{"m":7.5,"lat":27.5,"v":-0.8},{"m":8,"lat":27.5,"v":-1.0},{"m":8.5,"lat":27.5,"v":-1.0},{"m":9,"lat":27.5,"v":-1.2},
{"m":4.5,"lat":26.25,"v":0.9},{"m":5,"lat":26.25,"v":1.0},{"m":5.5,"lat":26.25,"v":1.0},{"m":6,"lat":26.25,"v":0.6},{"m":6.5,"lat":26.25,"v":0.2},{"m":7,"lat":26.25,"v":-0.6},{"m":7.5,"lat":26.25,"v":-1.4},{"m":8,"lat":26.25,"v":-1.8},{"m":8.5,"lat":26.25,"v":-1.8},{"m":9,"lat":26.25,"v":-1.8},
{"m":4.5,"lat":25,"v":1.8},{"m":5,"lat":25,"v":2.0},{"m":5.5,"lat":25,"v":2.0},{"m":6,"lat":25,"v":1.4},{"m":6.5,"lat":25,"v":0.7},{"m":7,"lat":25,"v":-0.3},{"m":7.5,"lat":25,"v":-1.9},{"m":8,"lat":25,"v":-2.6},{"m":8.5,"lat":25,"v":-2.6},{"m":9,"lat":25,"v":-2.4},
{"m":4.5,"lat":23.75,"v":3.0},{"m":5,"lat":23.75,"v":3.3},{"m":5.5,"lat":23.75,"v":3.4},{"m":6,"lat":23.75,"v":2.6},{"m":6.5,"lat":23.75,"v":1.4},{"m":7,"lat":23.75,"v":-0.3},{"m":7.5,"lat":23.75,"v":-2.6},{"m":8,"lat":23.75,"v":-3.4},{"m":8.5,"lat":23.75,"v":-3.3},{"m":9,"lat":23.75,"v":-3.0},
{"m":4.5,"lat":22.5,"v":3.4},{"m":5,"lat":22.5,"v":3.8},{"m":5.5,"lat":22.5,"v":4.0},{"m":6,"lat":22.5,"v":3.2},{"m":6.5,"lat":22.5,"v":1.8},{"m":7,"lat":22.5,"v":-0.4},{"m":7.5,"lat":22.5,"v":-3.2},{"m":8,"lat":22.5,"v":-4.6},{"m":8.5,"lat":22.5,"v":-4.4},{"m":9,"lat":22.5,"v":-3.8},
{"m":4.5,"lat":21.25,"v":3.2},{"m":5,"lat":21.25,"v":3.8},{"m":5.5,"lat":21.25,"v":4.2},{"m":6,"lat":21.25,"v":3.0},{"m":6.5,"lat":21.25,"v":1.6},{"m":7,"lat":21.25,"v":-0.5},{"m":7.5,"lat":21.25,"v":-3.6},{"m":8,"lat":21.25,"v":-5.2},{"m":8.5,"lat":21.25,"v":-5.3},{"m":9,"lat":21.25,"v":-4.8}
 ],
 "eof3": [
{"m":4.5,"lat":42.5,"v":-0.2},{"m":5,"lat":42.5,"v":-0.2},{"m":5.5,"lat":42.5,"v":-0.25},{"m":6,"lat":42.5,"v":-0.3},{"m":6.5,"lat":42.5,"v":-0.4},{"m":7,"lat":42.5,"v":-0.5},{"m":7.5,"lat":42.5,"v":-0.5},{"m":8,"lat":42.5,"v":-0.6},{"m":8.5,"lat":42.5,"v":-0.6},{"m":9,"lat":42.5,"v":-0.5},
{"m":4.5,"lat":41.25,"v":-0.1},{"m":5,"lat":41.25,"v":-0.15},{"m":5.5,"lat":41.25,"v":-0.2},{"m":6,"lat":41.25,"v":-0.4},{"m":6.5,"lat":41.25,"v":-0.6},{"m":7,"lat":41.25,"v":-0.7},{"m":7.5,"lat":41.25,"v":-0.8},{"m":8,"lat":41.25,"v":-0.9},{"m":8.5,"lat":41.25,"v":-0.8},{"m":9,"lat":41.25,"v":-0.8},
{"m":4.5,"lat":40,"v":0.1},{"m":5,"lat":40,"v":0.1},{"m":5.5,"lat":40,"v":-0.1},{"m":6,"lat":40,"v":-0.4},{"m":6.5,"lat":40,"v":-0.7},{"m":7,"lat":40,"v":-0.9},{"m":7.5,"lat":40,"v":-1.1},{"m":8,"lat":40,"v":-1.2},{"m":8.5,"lat":40,"v":-1.1},{"m":9,"lat":40,"v":-1.0},
{"m":4.5,"lat":38.75,"v":0.3},{"m":5,"lat":38.75,"v":0.2},{"m":5.5,"lat":38.75,"v":0.1},{"m":6,"lat":38.75,"v":-0.2},{"m":6.5,"lat":38.75,"v":-0.8},{"m":7,"lat":38.75,"v":-1.1},{"m":7.5,"lat":38.75,"v":-1.4},{"m":8,"lat":38.75,"v":-1.6},{"m":8.5,"lat":38.75,"v":-1.5},{"m":9,"lat":38.75,"v":-1.4},
{"m":4.5,"lat":37.5,"v":0.5},{"m":5,"lat":37.5,"v":0.3},{"m":5.5,"lat":37.5,"v":0.15},{"m":6,"lat":37.5,"v":-0.2},{"m":6.5,"lat":37.5,"v":-0.9},{"m":7,"lat":37.5,"v":-1.3},{"m":7.5,"lat":37.5,"v":-1.7},{"m":8,"lat":37.5,"v":-1.9},{"m":8.5,"lat":37.5,"v":-1.9},{"m":9,"lat":37.5,"v":-1.8},
{"m":4.5,"lat":36.25,"v":0.7},{"m":5,"lat":36.25,"v":0.4},{"m":5.5,"lat":36.25,"v":0.2},{"m":6,"lat":36.25,"v":-0.2},{"m":6.5,"lat":36.25,"v":-0.9},{"m":7,"lat":36.25,"v":-1.4},{"m":7.5,"lat":36.25,"v":-1.9},{"m":8,"lat":36.25,"v":-2.1},{"m":8.5,"lat":36.25,"v":-2.0},{"m":9,"lat":36.25,"v":-1.9},
{"m":4.5,"lat":35,"v":0.8},{"m":5,"lat":35,"v":0.5},{"m":5.5,"lat":35,"v":0.2},{"m":6,"lat":35,"v":-0.2},{"m":6.5,"lat":35,"v":-0.8},{"m":7,"lat":35,"v":-1.3},{"m":7.5,"lat":35,"v":-1.8},{"m":8,"lat":35,"v":-2.1},{"m":8.5,"lat":35,"v":-2.0},{"m":9,"lat":35,"v":-1.9},
{"m":4.5,"lat":33.75,"v":1.1},{"m":5,"lat":33.75,"v":0.7},{"m":5.5,"lat":33.75,"v":0.3},{"m":6,"lat":33.75,"v":-0.1},{"m":6.5,"lat":33.75,"v":-0.5},{"m":7,"lat":33.75,"v":-0.9},{"m":7.5,"lat":33.75,"v":-1.4},{"m":8,"lat":33.75,"v":-1.9},{"m":8.5,"lat":33.75,"v":-1.9},{"m":9,"lat":33.75,"v":-1.8},
{"m":4.5,"lat":32.5,"v":1.5},{"m":5,"lat":32.5,"v":1.3},{"m":5.5,"lat":32.5,"v":1.2},{"m":6,"lat":32.5,"v":1.0},{"m":6.5,"lat":32.5,"v":0.8},{"m":7,"lat":32.5,"v":0.4},{"m":7.5,"lat":32.5,"v":0.0},{"m":8,"lat":32.5,"v":-0.5},{"m":8.5,"lat":32.5,"v":-0.7},{"m":9,"lat":32.5,"v":-0.8},
{"m":4.5,"lat":31.25,"v":2.0},{"m":5,"lat":31.25,"v":2.2},{"m":5.5,"lat":31.25,"v":2.3},{"m":6,"lat":31.25,"v":2.3},{"m":6.5,"lat":31.25,"v":2.2},{"m":7,"lat":31.25,"v":2.0},{"m":7.5,"lat":31.25,"v":1.6},{"m":8,"lat":31.25,"v":1.2},{"m":8.5,"lat":31.25,"v":0.6},{"m":9,"lat":31.25,"v":0.2},
{"m":4.5,"lat":30,"v":2.6},{"m":5,"lat":30,"v":3.0},{"m":5.5,"lat":30,"v":3.3},{"m":6,"lat":30,"v":3.4},{"m":6.5,"lat":30,"v":3.4},{"m":7,"lat":30,"v":3.2},{"m":7.5,"lat":30,"v":2.9},{"m":8,"lat":30,"v":2.5},{"m":8.5,"lat":30,"v":1.8},{"m":9,"lat":30,"v":1.2},
{"m":4.5,"lat":28.75,"v":2.8},{"m":5,"lat":28.75,"v":3.3},{"m":5.5,"lat":28.75,"v":3.8},{"m":6,"lat":28.75,"v":4.1},{"m":6.5,"lat":28.75,"v":4.2},{"m":7,"lat":28.75,"v":4.0},{"m":7.5,"lat":28.75,"v":3.7},{"m":8,"lat":28.75,"v":3.3},{"m":8.5,"lat":28.75,"v":2.6},{"m":9,"lat":28.75,"v":1.8},
{"m":4.5,"lat":27.5,"v":2.4},{"m":5,"lat":27.5,"v":3.0},{"m":5.5,"lat":27.5,"v":3.6},{"m":6,"lat":27.5,"v":3.9},{"m":6.5,"lat":27.5,"v":4.2},{"m":7,"lat":27.5,"v":4.0},{"m":7.5,"lat":27.5,"v":3.8},{"m":8,"lat":27.5,"v":3.3},{"m":8.5,"lat":27.5,"v":2.7},{"m":9,"lat":27.5,"v":1.9},
{"m":4.5,"lat":26.25,"v":1.6},{"m":5,"lat":26.25,"v":2.2},{"m":5.5,"lat":26.25,"v":2.8},{"m":6,"lat":26.25,"v":3.2},{"m":6.5,"lat":26.25,"v":3.4},{"m":7,"lat":26.25,"v":3.3},{"m":7.5,"lat":26.25,"v":3.0},{"m":8,"lat":26.25,"v":2.6},{"m":8.5,"lat":26.25,"v":2.0},{"m":9,"lat":26.25,"v":1.3},
{"m":4.5,"lat":25,"v":0.5},{"m":5,"lat":25,"v":1.0},{"m":5.5,"lat":25,"v":1.6},{"m":6,"lat":25,"v":2.0},{"m":6.5,"lat":25,"v":2.3},{"m":7,"lat":25,"v":2.3},{"m":7.5,"lat":25,"v":2.0},{"m":8,"lat":25,"v":1.6},{"m":8.5,"lat":25,"v":1.1},{"m":9,"lat":25,"v":0.6},
{"m":4.5,"lat":23.75,"v":-0.4},{"m":5,"lat":23.75,"v":-0.2},{"m":5.5,"lat":23.75,"v":0.2},{"m":6,"lat":23.75,"v":0.6},{"m":6.5,"lat":23.75,"v":1.0},{"m":7,"lat":23.75,"v":1.0},{"m":7.5,"lat":23.75,"v":0.8},{"m":8,"lat":23.75,"v":0.4},{"m":8.5,"lat":23.75,"v":0.1},{"m":9,"lat":23.75,"v":-0.2},
{"m":4.5,"lat":22.5,"v":-0.9},{"m":5,"lat":22.5,"v":-0.8},{"m":5.5,"lat":22.5,"v":-0.5},{"m":6,"lat":22.5,"v":-0.3},{"m":6.5,"lat":22.5,"v":-0.1},{"m":7,"lat":22.5,"v":0.1},{"m":7.5,"lat":22.5,"v":0.0},{"m":8,"lat":22.5,"v":-0.2},{"m":8.5,"lat":22.5,"v":-0.4},{"m":9,"lat":22.5,"v":-0.6},
{"m":4.5,"lat":21.25,"v":-0.9},{"m":5,"lat":21.25,"v":-0.8},{"m":5.5,"lat":21.25,"v":-0.6},{"m":6,"lat":21.25,"v":-0.5},{"m":6.5,"lat":21.25,"v":-0.4},{"m":7,"lat":21.25,"v":-0.3},{"m":7.5,"lat":21.25,"v":-0.4},{"m":8,"lat":21.25,"v":-0.5},{"m":8.5,"lat":21.25,"v":-0.7},{"m":9,"lat":21.25,"v":-0.9}
 ]
}
}
